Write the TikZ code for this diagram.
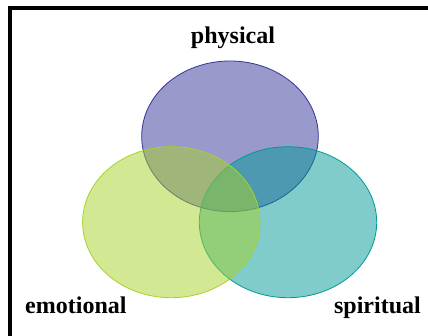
\documentclass[tikz,border=0pt]{standalone}
\usepackage{fontspec}
\setmainfont{Liberation Serif}
\definecolor{physblue}{RGB}{51,51,153}
\definecolor{emogreen}{RGB}{166,210,40}
\definecolor{spirteal}{RGB}{0,153,150}
\tikzset{
  venn/.style={line width=0.8, fill opacity=0.5},
  label/.style={font=\bfseries\fontsize{24}{27}\selectfont, inner sep=0}
}
\begin{document}
\begin{tikzpicture}[x=1pt,y=1pt]

\useasboundingbox (0,0) rectangle (428,335);

% the three circles
\draw [venn,draw=physblue,fill=physblue] (230,198.7) ellipse (88.3 and 75.3);

\draw [venn,draw=spirteal,fill=spirteal] (288,112.8) ellipse (88.7 and 75.5);

\draw [venn,draw=emogreen,fill=emogreen] (171.3,112.8) ellipse (88.7 and 75.5);

% labels
\node [label,anchor=base] (physical) at (233,291.5) {physical};

\node [label,anchor=base west] (emotional) at (25,21.5) {emotional};

\node [label,anchor=base east] (spiritual) at (421,21.5) {spiritual};

% frame
\draw [line width=4] (10,-5) -- (10,327) -- (440,327);

\end{tikzpicture}
\end{document}
